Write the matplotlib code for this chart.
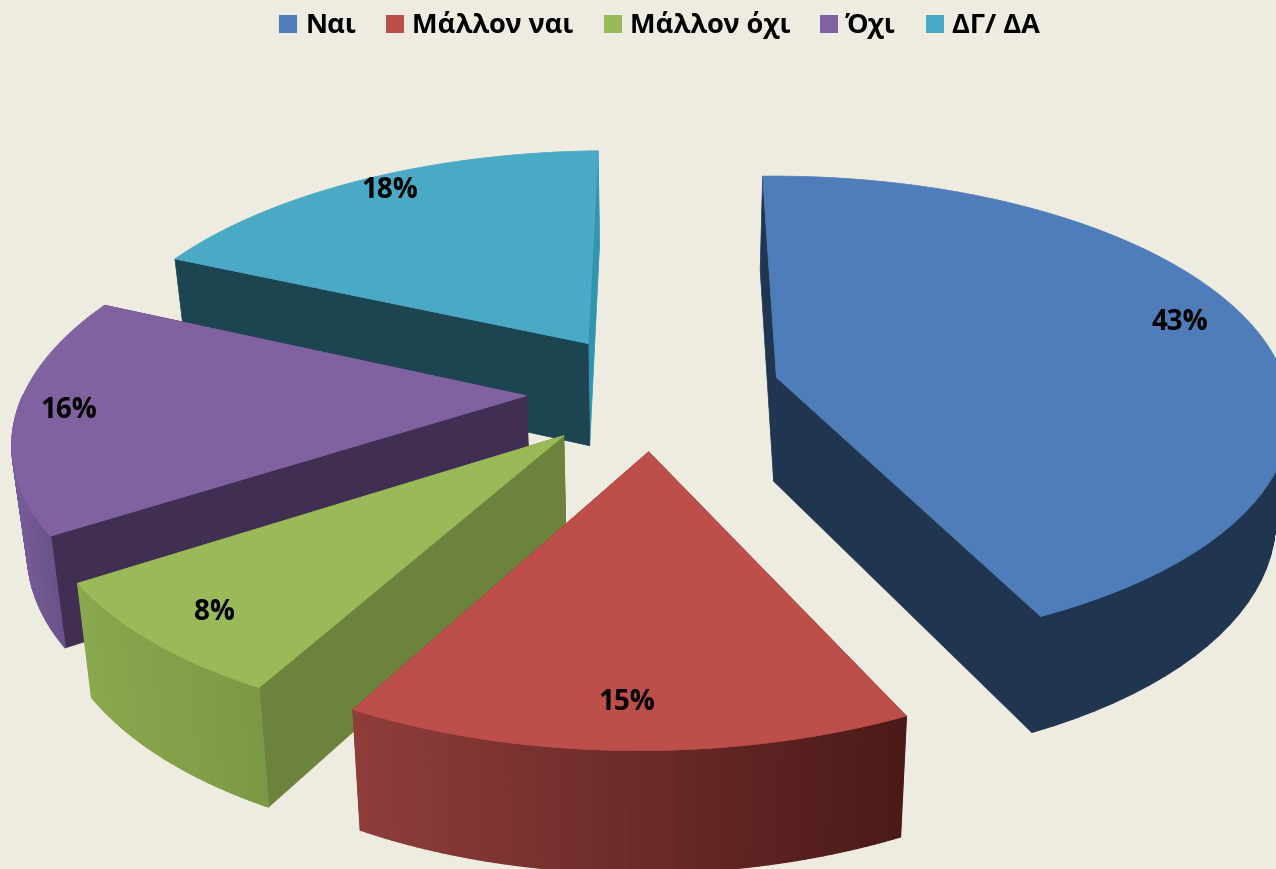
import numpy as np
import matplotlib
matplotlib.use('Agg')
import matplotlib.pyplot as plt
from matplotlib.colors import to_rgb
from matplotlib.patches import Polygon, Patch

# data
categories = ['Ναι', 'Μάλλον ναι', 'Μάλλον όχι', 'Όχι', 'ΔΓ/ ΔΑ']
values = [43, 15, 8, 16, 18]

# styles
top_colors = ['#4E7DB9', '#BD4F4B', '#9AB958', '#8062A0', '#4AA9C4']
side_colors = ['#20354F', '#7A302D', '#6D833D', '#402F52', '#1D4451']
far_colors = ['#20354F', '#7A302D', '#6D833D', '#402F52', '#3295AE']
rim_left = ['#20354F', '#8F3D3A', '#8AA84E', '#745B96', '#2C7F96']
rim_right = ['#20354F', '#4A1A18', '#7C9845', '#5B4779', '#2C7F96']
bg = '#EEEBE0'
label_xy = [(1180, 323), (627, 703), (214, 612), (69, 411), (390, 191)]

# how far the slices are pulled out, in pie radii
EXPLODE = 0.25


def project(xw, yw):
    """ pie plane (radius 1, y pointing to the back) to pixels, perspective view """
    den = 1 - 0.0037 * xw + 0.148 * yw
    return (504.8 * xw + 99.0 * yw + 653.4) / den, (-5.6 * xw - 176.6 * yw + 391.0) / den


def drop(x, y):
    """ same point on the underside of the pie """
    return x - 0.024 * (x - 660), 1.05 * y + 85


fig = plt.figure(figsize=(12.76, 8.69), dpi=100, facecolor=bg)
ax = fig.add_axes([0, 0, 1, 1])
ax.set_xlim(0, 1276)
ax.set_ylim(869, 0)
ax.axis('off')

edges = np.radians(np.cumsum([0] + values) * 3.6)

# back to front
for i in [4, 3, 2, 1, 0]:
    t0, t1 = edges[i], edges[i + 1]
    mid = (t0 + t1) / 2
    ox, oy = EXPLODE * np.sin(mid), EXPLODE * np.cos(mid)
    ax0, ay0 = project(ox, oy)
    zo = 10 * (5 - i) if i else 60

    # straight walls, the one going to the back first
    for t, c in ((t1, far_colors[i]), (t0, side_colors[i])):
        px, py = project(ox + np.sin(t), oy + np.cos(t))
        pts = [(ax0, ay0), (px, py), drop(px, py), drop(ax0, ay0)]
        ax.add_patch(Polygon(pts, closed=True, fc=c, ec=c, lw=0.5, zorder=zo))

    # curved wall, shaded in narrow strips, only the part facing us
    tt = np.linspace(t0, t1, 61)
    xs, ys = project(ox + np.sin(tt), oy + np.cos(tt))
    x_lo, x_hi = xs.min(), xs.max()
    c_l = np.array(to_rgb(rim_left[i]))
    c_r = np.array(to_rgb(rim_right[i]))
    for j in range(len(tt) - 1):
        if np.cos(tt[j]) > 0.02 and np.cos(tt[j + 1]) > 0.02:
            continue
        f = ((xs[j] + xs[j + 1]) / 2 - x_lo) / (x_hi - x_lo)
        col = c_l + (c_r - c_l) * f
        pts = [(xs[j], ys[j]), (xs[j + 1], ys[j + 1]), drop(xs[j + 1], ys[j + 1]), drop(xs[j], ys[j])]
        ax.add_patch(Polygon(pts, closed=True, fc=col, ec=col, lw=1, zorder=zo + 1))

    # top face
    pts = [(ax0, ay0)] + list(zip(xs, ys))
    ax.add_patch(Polygon(pts, closed=True, fc=top_colors[i], ec=top_colors[i], lw=0.5, zorder=zo + 2))

    ax.text(label_xy[i][0], label_xy[i][1], '%d%%' % values[i], ha='center', va='center',
            fontsize=20, fontweight='bold', family='Open Sans', color='black', zorder=100)

handles = [Patch(fc=c, ec=c, lw=0) for c in top_colors]
ax.legend(handles, categories, loc='upper center', bbox_to_anchor=(0.517, 1.0025), ncol=5, frameon=False,
          prop={'family': 'Open Sans', 'weight': 'bold', 'size': 19.5},
          handlelength=0.665, handleheight=0.665, handletextpad=0.3, columnspacing=1.1, borderpad=0.0)

fig.savefig('out.png', dpi=100, facecolor=bg)
